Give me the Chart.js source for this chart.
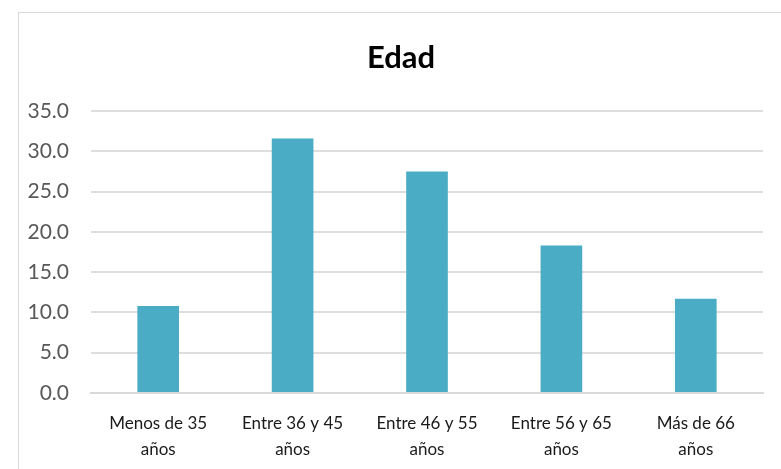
<!DOCTYPE html>
<html>
<head>
<meta charset="utf-8">
<script src="https://cdn.jsdelivr.net/npm/chart.js@4"></script>
<style>
  html, body { margin: 0; padding: 0; background: #ffffff; overflow: hidden; }
  #wrap { position: relative; width: 781px; height: 469px; }
  #frame { position: absolute; left: 18px; top: 12px; width: 800px; height: 500px; border: 1px solid #d9d9d9; box-sizing: border-box; }
  canvas { position: absolute; left: 0; top: 0; }
</style>
</head>
<body>
<div id="wrap">
  <div id="frame"></div>
  <canvas id="chart" width="781" height="469"></canvas>
</div>
<script>
const chartTitle = 'Edad';
const categories = [
    ['Menos de 35', 'años'],
    ['Entre 36 y 45', 'años'],
    ['Entre 46 y 55', 'años'],
    ['Entre 56 y 65', 'años'],
    ['Más de 66', 'años']
];
const values = [10.8, 31.6, 27.5, 18.3, 11.7];
const yTicks = [0, 5, 10, 15, 20, 25, 30, 35];

// title is centred on the frame, not on the canvas, so draw it by hand
const frameTitle = {
    id: 'frameTitle',
    afterDraw(chart) {
        const c = chart.ctx;
        c.save();
        c.font = "bold 31px Lato, 'Open Sans', sans-serif";
        c.fillStyle = '#000000';
        c.textAlign = 'center';
        c.textBaseline = 'middle';
        c.fillText(chartTitle, 401, 58);
        c.restore();
    }
};

const ctx = document.getElementById('chart').getContext('2d');

new Chart(ctx, {
    type: 'bar',
    data: {
        labels: categories,
        datasets: [{
            label: chartTitle,
            data: values,
            backgroundColor: '#4bacc6',
            borderWidth: 0,
            barPercentage: 0.31,
            categoryPercentage: 1
        }]
    },
    options: {
        responsive: false,
        animation: false,
        layout: {
            padding: { left: 0, right: 18, top: 111, bottom: 0 }
        },
        plugins: {
            legend: { display: false },
            tooltip: { enabled: false },
            title: { display: false }
        },
        scales: {
            x: {
                grid: { display: false },
                border: { color: '#d9d9d9', width: 2 },
                ticks: {
                    color: '#1a1a1a',
                    padding: 10,
                    maxRotation: 0,
                    autoSkip: false,
                    font: { family: "Lato, 'Open Sans', sans-serif", size: 17, lineHeight: 1.53 }
                },
                afterFit: function(scale) { scale.height = 76; }
            },
            y: {
                min: 0,
                max: 35,
                afterBuildTicks: function(scale) {
                    scale.ticks = yTicks.map(v => ({ value: v }));
                },
                grid: { color: '#dedede', lineWidth: 2, drawTicks: false },
                border: { display: false },
                ticks: {
                    color: '#595959',
                    padding: 22,
                    font: { family: "Lato, 'Open Sans', sans-serif", size: 21 },
                    callback: function(v) { return Number(v).toFixed(1); }
                },
                afterFit: function(scale) { scale.width = 91; }
            }
        }
    },
    plugins: [frameTitle]
});
</script>
</body>
</html>
